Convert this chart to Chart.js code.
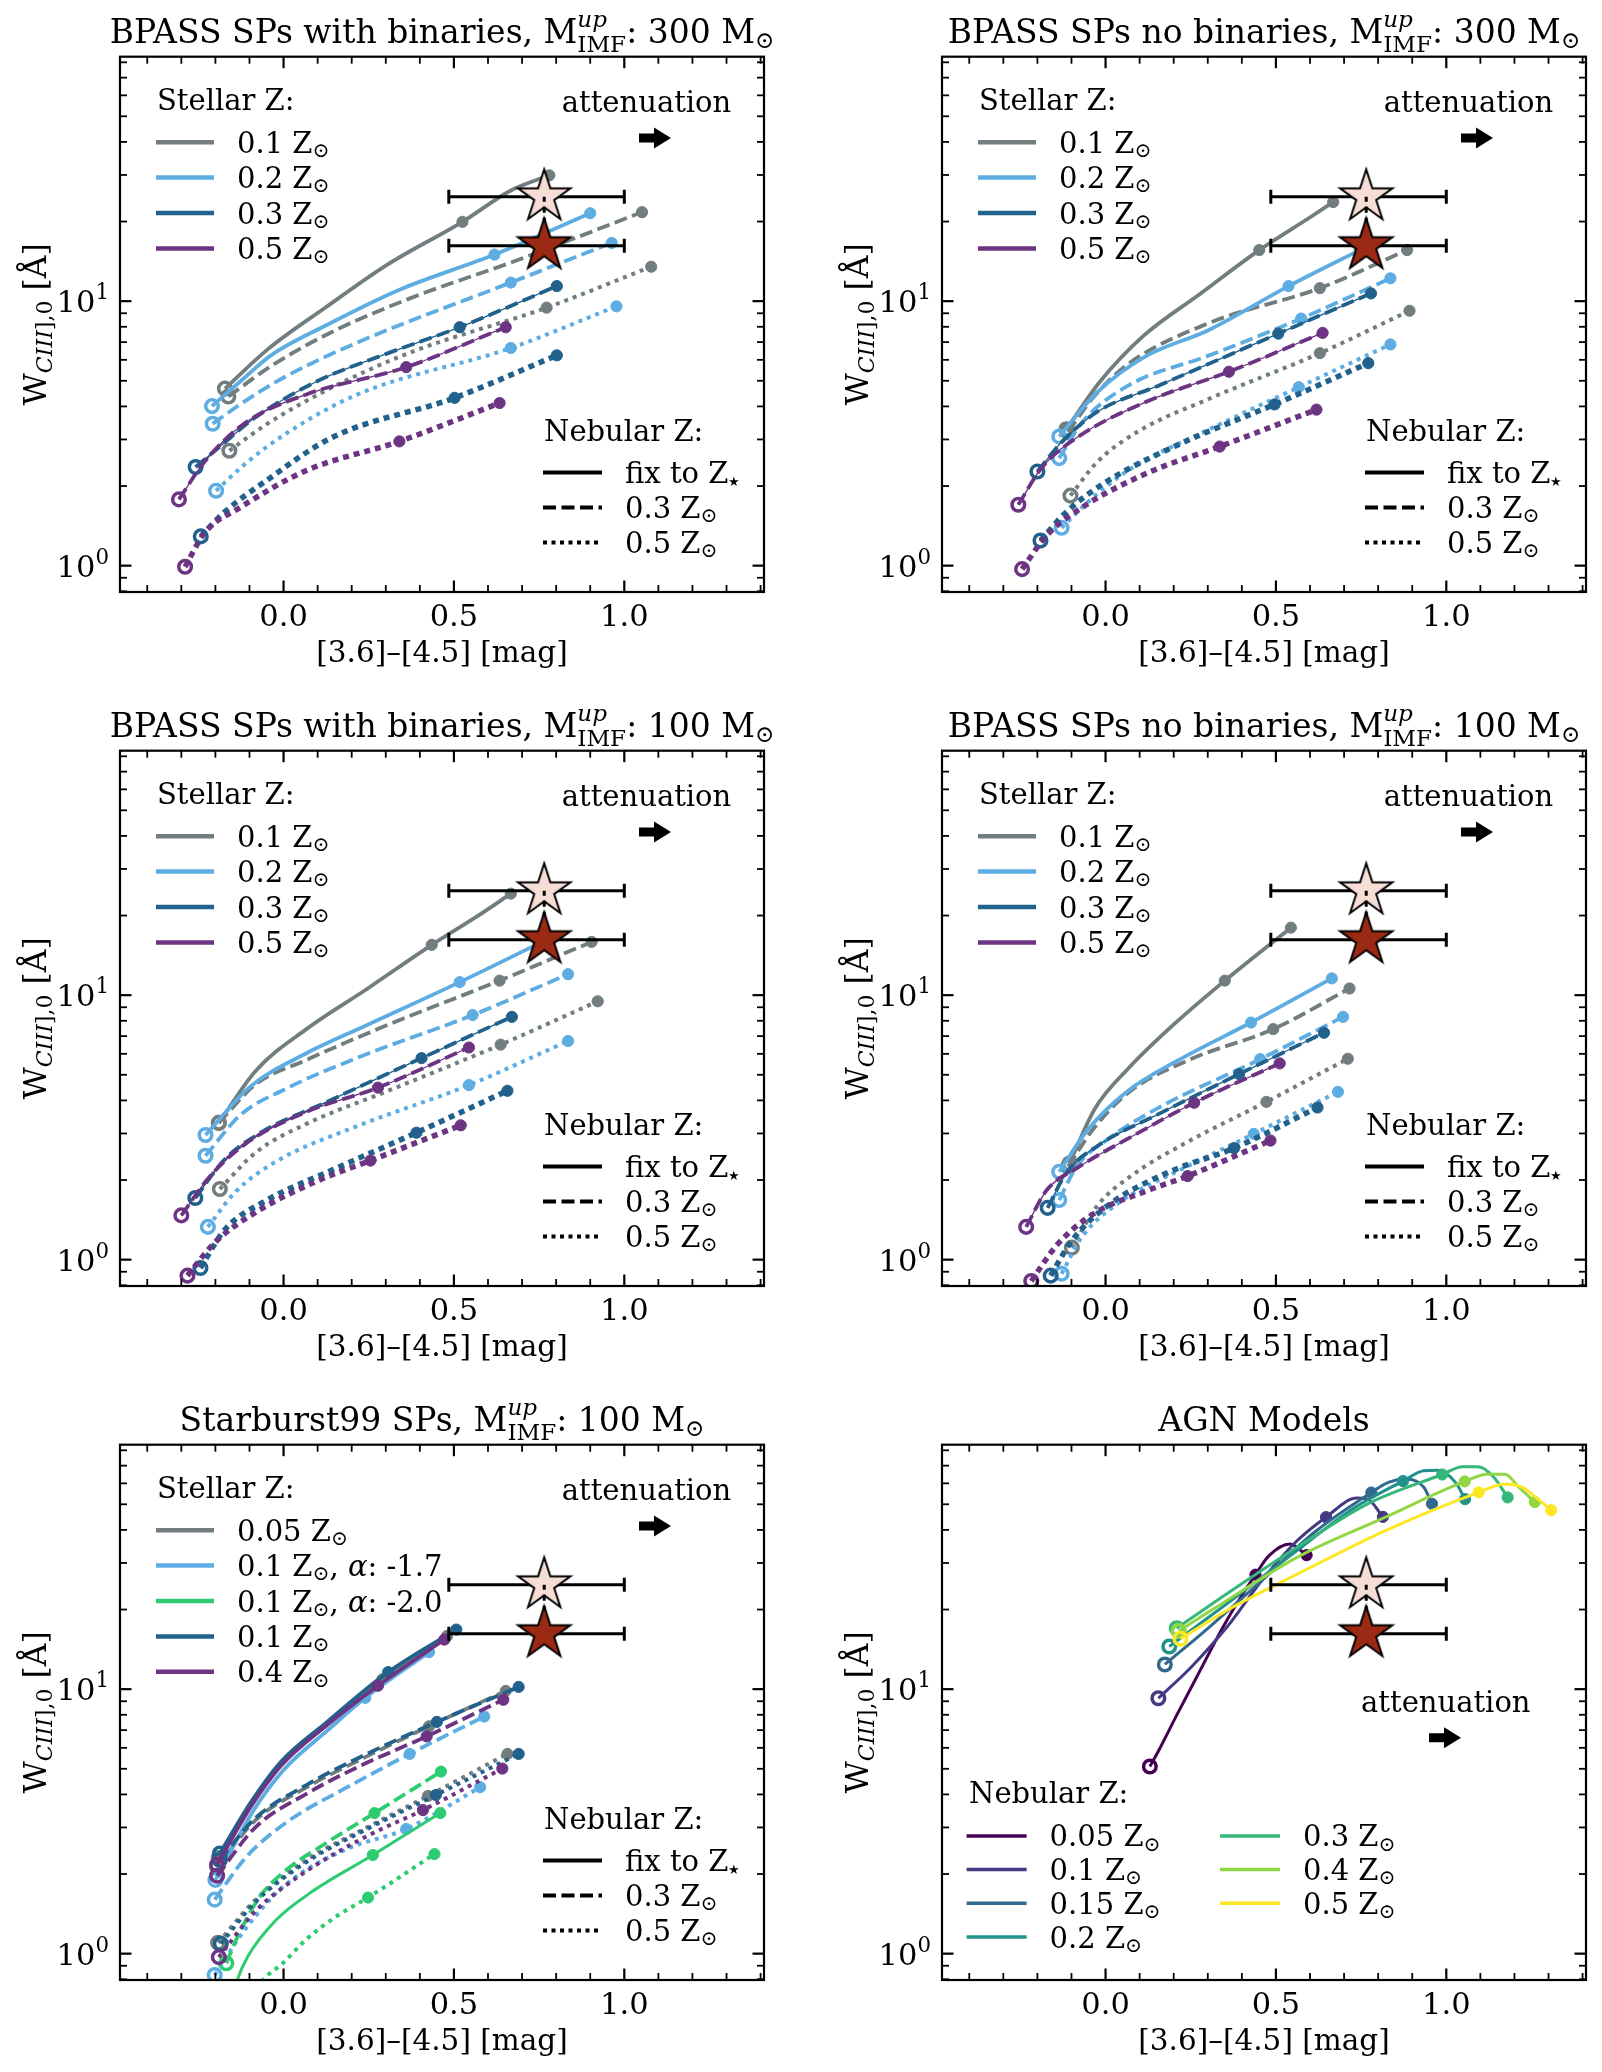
<!DOCTYPE html>
<html>
<head>
<meta charset="utf-8">
<script src="https://cdn.jsdelivr.net/npm/chart.js@4.4.1/dist/chart.umd.min.js"></script>
<style>
  html, body { margin: 0; padding: 0; background: #fff; }
  #fig { position: relative; width: 1602px; height: 2072px; overflow: hidden; background: #fff; }
  #fig canvas { position: absolute; }
</style>
</head>
<body>
<div id="fig"></div>
<script>
// axes
const xRange = [-0.48, 1.41];
const yRange = [0.795, 84];
const xMajor = [0, 0.5, 1.0];
const xTickLabels = ['0.0', '0.5', '1.0'];
const xMinor = [-0.4, -0.3, -0.2, -0.1, 0.1, 0.2, 0.3, 0.4, 0.6, 0.7, 0.8, 0.9, 1.1, 1.2, 1.3, 1.4];
const yMajor = [1, 10];
const yTickLabels = [['10', '0'], ['10', '1']];
const yMinor = [0.8, 0.9, 2, 3, 4, 5, 6, 7, 8, 9, 20, 30, 40, 50, 60, 70, 80];

// observed object: colour and two CIII] measurements
const obsX = 0.765, obsXlo = 0.485, obsXhi = 1.0;
const obsY = [24.8, 16.2];

// model tracks: [colour, EW] ; a third value 1 marks the age dot
// BPASS binaries, Mup 300
const bb300_01_fix = [[-0.172,4.67],[-0.045,6.6],[0.12,9.4],[0.307,13.8],[0.525,19.95,1],[0.667,26.2],[0.78,29.9]];
const bb300_01_03 = [[-0.162,4.36],[-0.037,5.68],[0.127,7.48],[0.367,10.2],[0.667,14.0],[1.052,21.7]];
const bb300_01_05 = [[-0.159,2.72],[-0.052,3.41],[0.127,4.61],[0.367,6.36],[0.772,9.45,1],[1.079,13.5]];
const bb300_02_fix = [[-0.21,4.01],[-0.112,5.17],[-0.037,6.24],[0.127,8.13],[0.337,11.0],[0.619,15.0,1],[0.90,21.5]];
const bb300_02_03 = [[-0.208,3.44],[-0.112,4.2],[0.0075,5.2],[0.217,6.98],[0.667,11.76,1],[0.963,16.6]];
const bb300_02_05 = [[-0.198,1.92],[-0.112,2.43],[0.0075,3.16],[0.217,4.44],[0.667,6.65,1],[0.977,9.56]];
const bb300_03_03 = [[-0.258,2.36],[-0.187,2.82],[-0.082,3.64],[0.097,4.97],[0.307,6.36],[0.517,7.97,1],[0.802,11.4]];
const bb300_03_05 = [[-0.243,1.29],[-0.172,1.6],[-0.052,2.09],[0.142,3.05],[0.502,4.31,1],[0.802,6.24]];
const bb300_05_03 = [[-0.307,1.78],[-0.232,2.47],[-0.112,3.47],[0.067,4.44],[0.36,5.63,1],[0.652,7.97]];
const bb300_05_05 = [[-0.289,0.99],[-0.232,1.33],[-0.127,1.66],[0.067,2.29],[0.34,2.95,1],[0.634,4.12]];

// BPASS single stars, Mup 300
const bs300_01_fix = [[-0.115,3.28],[-0.016,4.97],[0.111,7.39],[0.275,10.6],[0.451,15.6,1],[0.604,20.9],[0.668,23.7]];
const bs300_01_03 = [[-0.11,3.2],[-0.039,4.28],[0.066,5.78],[0.305,8.28],[0.629,11.2,1],[0.885,15.6]];
const bs300_01_05 = [[-0.103,1.84],[-0.024,2.47],[0.096,3.22],[0.305,4.28],[0.629,6.36,1],[0.892,9.2]];
const bs300_02_fix = [[-0.136,3.08],[-0.024,4.53],[0.111,6.12],[0.305,7.8],[0.537,11.4,1],[0.746,15.6]];
const bs300_02_03 = [[-0.136,2.55],[-0.069,3.48],[0.066,4.79],[0.305,6.24],[0.574,8.6,1],[0.836,12.2]];
const bs300_02_05 = [[-0.129,1.39],[-0.054,1.73],[0.066,2.29],[0.305,3.28],[0.567,4.73,1],[0.836,6.86]];
const bs300_03_03 = [[-0.2,2.27],[-0.129,2.93],[-0.024,3.82],[0.155,4.79],[0.507,7.54,1],[0.779,10.7]];
const bs300_03_05 = [[-0.191,1.245],[-0.114,1.6],[0.006,2.09],[0.23,2.93],[0.496,4.07,1],[0.771,5.83]];
const bs300_05_03 = [[-0.256,1.70],[-0.188,2.34],[-0.084,3.05],[0.126,4.2],[0.362,5.41,1],[0.637,7.59]];
const bs300_05_05 = [[-0.245,0.97],[-0.173,1.3],[-0.069,1.66],[0.126,2.25],[0.335,2.82,1],[0.619,3.89]];

// BPASS binaries, Mup 100
const bb100_01_fix = [[-0.19,3.29],[-0.082,5.17],[0.067,7.44],[0.247,10.6],[0.435,15.5,1],[0.577,20.2],[0.667,24.2]];
const bb100_01_03 = [[-0.19,3.29],[-0.082,4.6],[0.067,5.69],[0.292,7.59],[0.634,11.35,1],[0.904,15.9]];
const bb100_01_05 = [[-0.187,1.85],[-0.082,2.54],[0.067,3.26],[0.307,4.35],[0.637,6.5,1],[0.922,9.48]];
const bb100_02_fix = [[-0.229,2.96],[-0.097,4.52],[0.067,6.03],[0.247,7.73],[0.517,11.2,1],[0.75,15.7]];
const bb100_02_03 = [[-0.229,2.47],[-0.127,3.52],[0.0075,4.43],[0.217,5.8],[0.555,8.41,1],[0.835,12.0]];
const bb100_02_05 = [[-0.222,1.33],[-0.142,1.80],[-0.022,2.35],[0.217,3.20],[0.544,4.57,1],[0.835,6.71]];
const bb100_03_03 = [[-0.259,1.71],[-0.172,2.40],[-0.067,3.02],[0.127,3.95],[0.405,5.78,1],[0.670,8.28]];
const bb100_03_05 = [[-0.244,0.93],[-0.172,1.30],[-0.052,1.67],[0.142,2.18],[0.39,3.02,1],[0.657,4.35]];
const bb100_05_03 = [[-0.30,1.47],[-0.217,2.06],[-0.112,2.74],[0.067,3.62],[0.277,4.47,1],[0.544,6.34]];
const bb100_05_05 = [[-0.282,0.87],[-0.202,1.16],[-0.082,1.51],[0.097,1.98],[0.255,2.37,1],[0.52,3.22]];

// BPASS single stars, Mup 100
const bs100_01_fix = [[-0.106,2.31],[-0.031,3.73],[0.066,5.27],[0.185,7.44],[0.35,11.35,1],[0.544,18.0]];
const bs100_01_03 = [[-0.11,2.25],[-0.039,3.08],[0.066,4.27],[0.245,5.69],[0.492,7.44,1],[0.716,10.6]];
const bs100_01_05 = [[-0.099,1.11],[-0.024,1.60],[0.081,2.10],[0.23,2.74],[0.472,3.95,1],[0.711,5.75]];
const bs100_02_fix = [[-0.136,2.15],[-0.054,3.08],[0.066,4.35],[0.215,5.69],[0.427,7.88,1],[0.664,11.57]];
const bs100_02_03 = [[-0.136,1.68],[-0.084,2.26],[0.006,2.85],[0.155,3.75],[0.454,5.73,1],[0.697,8.28]];
const bs100_02_05 = [[-0.129,0.885],[-0.069,1.22],[0.036,1.63],[0.23,2.22],[0.435,2.99,1],[0.682,4.31]];
const bs100_03_03 = [[-0.17,1.57],[-0.114,2.14],[-0.024,2.69],[0.155,3.55],[0.392,5.03,1],[0.641,7.21]];
const bs100_03_05 = [[-0.161,0.87],[-0.099,1.18],[0.006,1.60],[0.185,2.14],[0.377,2.64,1],[0.622,3.76]];
const bs100_05_03 = [[-0.233,1.33],[-0.173,1.83],[-0.084,2.22],[0.081,2.94],[0.26,3.92,1],[0.511,5.52]];
const bs100_05_05 = [[-0.218,0.83],[-0.143,1.135],[-0.039,1.48],[0.126,1.83],[0.241,2.07,1],[0.484,2.82]];

// Starburst99, Mup 100
const sb_005_fix = [[-0.19,2.3],[-0.097,3.65],[-0.0075,5.2],[0.127,7.4],[0.29,10.9,1],[0.48,15.9]];
const sb_005_03 = [[-0.195,2.13],[-0.082,3.2],[0.067,4.25],[0.217,5.35],[0.427,7.24,1],[0.652,9.85]];
const sb_005_05 = [[-0.192,1.10],[-0.082,1.60],[0.067,2.26],[0.247,3.01],[0.424,3.95,1],[0.657,5.69]];
const sb_01a17_fix = [[-0.2,1.9],[-0.09,3.45],[0.0,4.95],[0.13,7.0],[0.24,9.27,1],[0.427,13.8]];
const sb_01a17_03 = [[-0.202,1.60],[-0.112,2.30],[0.0075,3.13],[0.187,4.26],[0.37,5.69,1],[0.589,7.88]];
const sb_01a17_05 = [[-0.202,0.83],[-0.112,1.24],[0.0075,1.83],[0.187,2.49],[0.36,2.96,1],[0.577,4.26]];
const sb_01a20_fix = [[-0.16,0.62],[-0.135,0.8],[-0.105,0.975],[-0.022,1.34],[0.076,1.69],[0.262,2.36,1],[0.46,3.40]];
const sb_01a20_03 = [[-0.168,0.92],[-0.139,1.13],[-0.07,1.64],[0.008,2.07],[0.125,2.62],[0.267,3.40,1],[0.462,4.88]];
const sb_01a20_05 = [[-0.12,0.6],[-0.06,0.795],[-0.002,0.92],[0.066,1.13],[0.154,1.38],[0.248,1.63,1],[0.443,2.38]];
const sb_01_fix = [[-0.187,2.39],[-0.097,3.72],[-0.0075,5.32],[0.127,7.5],[0.307,11.6,1],[0.507,16.8]];
const sb_01_03 = [[-0.187,2.26],[-0.082,3.26],[0.067,4.34],[0.217,5.47],[0.45,7.52,1],[0.69,10.2]];
const sb_01_05 = [[-0.184,1.09],[-0.082,1.57],[0.067,2.22],[0.247,2.97],[0.447,3.98,1],[0.69,5.69]];
const sb_04_fix = [[-0.195,2.17],[-0.097,3.58],[-0.0075,5.13],[0.127,7.3],[0.277,10.3,1],[0.472,15.4]];
const sb_04_03 = [[-0.195,1.97],[-0.082,3.01],[0.067,4.02],[0.217,5.07],[0.42,6.63,1],[0.645,9.12]];
const sb_04_05 = [[-0.19,0.97],[-0.082,1.45],[0.067,2.05],[0.247,2.79],[0.409,3.49,1],[0.642,5.01]];

// AGN models
const agn_005 = [[0.130,5.1],[0.158,5.93],[0.21,8.03],[0.272,11.4],[0.344,17.1],[0.396,22.2],[0.44,27.1,1],[0.479,31.9],[0.541,35.4],[0.59,32.1]];
const agn_01 = [[0.155,9.24],[0.251,12.1],[0.355,17.1],[0.458,25.7],[0.562,36.4],[0.647,44.7,1],[0.737,52.8],[0.768,52.4],[0.814,44.8]];
const agn_015 = [[0.174,12.4],[0.303,17.1],[0.458,25.7],[0.613,39.2],[0.78,55.4,1],[0.83,60.5],[0.882,62.3],[0.934,58],[0.958,50.2]];
const agn_02 = [[0.187,14.5],[0.355,21],[0.562,33.4],[0.717,47.3],[0.873,61.2,1],[0.934,67],[0.975,67.3],[1.027,60.5],[1.055,52.3]];
const agn_03 = [[0.209,17.0],[0.355,22.9],[0.562,34.4],[0.768,50.1],[0.988,64.8,1],[1.048,69.3],[1.094,69.3],[1.14,63.1],[1.18,53.1]];
const agn_04 = [[0.215,16.6],[0.355,21.6],[0.562,31.5],[0.82,44.6],[1.054,61.0,1],[1.12,65],[1.172,65],[1.213,58],[1.26,51]];
const agn_05 = [[0.22,15.5],[0.355,19.8],[0.562,27.2],[0.82,39.7],[1.095,55.5,1],[1.172,59.7],[1.223,58],[1.275,51.5],[1.308,47.5]];

const bpassZ = ['0.1', '0.2', '0.3', '0.5'];
const sbZ = ['0.05', '0.1|1.7', '0.1|2.0', '0.1', '0.4'];
const agnZ = ['0.05', '0.1', '0.15', '0.2', '0.3', '0.4', '0.5'];

// look
const GRAY = '#717D7E', LBLUE = '#5DADE2', DBLUE = '#21618C', PURPLE = '#6C3483', GREEN = '#2ECC71';
const VIRIDIS = ['#440154', '#443983', '#31688e', '#21918c', '#35b779', '#90d743', '#fde725'];
const FONT = '"DejaVu Serif", serif';
const CW = 801, CH = 694;
const fig = document.getElementById('fig');

function fnt(px, it) { return (it ? 'italic ' : '') + px + 'px ' + FONT; }

function segWidth(ctx, s, size) {
  if (s.k === 's') {
    ctx.font = fnt(size * 0.7, s.i && s.i[0]); const a = ctx.measureText(s.t[0]).width;
    ctx.font = fnt(size * 0.7, s.i && s.i[1]); const b = ctx.measureText(s.t[1]).width;
    return Math.max(a, b);
  }
  ctx.font = fnt(s.k === 'n' ? size : size * (s.sz || 0.7), s.i);
  return ctx.measureText(s.t).width;
}

function drawRich(ctx, segs, x, y, size, align) {
  let w = 0;
  segs.forEach(s => { w += segWidth(ctx, s, size); });
  let cx = align === 'center' ? x - w / 2 : align === 'right' ? x - w : x;
  ctx.textAlign = 'left';
  ctx.textBaseline = 'alphabetic';
  segs.forEach(s => {
    const sw = segWidth(ctx, s, size);
    if (s.k === 's') {
      ctx.font = fnt(size * 0.7, s.i && s.i[0]); ctx.fillText(s.t[0], cx, y - size * 0.5);
      ctx.font = fnt(size * 0.7, s.i && s.i[1]); ctx.fillText(s.t[1], cx, y + size * 0.25);
    } else {
      let dy = 0;
      if (s.k === 'b') dy = size * (s.dy == null ? 0.15 : s.dy);
      if (s.k === 'p') dy = -size * 0.42;
      ctx.font = fnt(s.k === 'n' ? size : size * (s.sz || 0.7), s.i);
      ctx.fillText(s.t, cx, y + dy);
    }
    cx += sw;
  });
}

function zsun(v) {
  const parts = v.split('|');
  const segs = [{ t: parts[0] + ' Z', k: 'n' }, { t: '⊙', k: 'b' }];
  if (parts[1]) segs.push({ t: ', ', k: 'n' }, { t: 'α', k: 'n', i: true }, { t: ': -' + parts[1], k: 'n' });
  return segs;
}

function titleSegs(prefix, mass) {
  return [{ t: prefix + ', M', k: 'n' }, { t: ['up', 'IMF'], k: 's', i: [true, false] },
          { t: ': ' + mass + ' M', k: 'n' }, { t: '⊙', k: 'b' }];
}

function starImage(fill) {
  const c = document.createElement('canvas');
  c.width = 64; c.height = 64;
  const g = c.getContext('2d');
  const R = 27.5, r = R * 0.382;
  g.beginPath();
  for (let k = 0; k < 10; k++) {
    const ang = -Math.PI / 2 + k * Math.PI / 5;
    const rr = k % 2 ? r : R;
    const px = 32 + rr * Math.cos(ang), py = 32 + rr * Math.sin(ang);
    if (k) g.lineTo(px, py); else g.moveTo(px, py);
  }
  g.closePath();
  g.fillStyle = fill; g.fill();
  g.lineWidth = 2; g.strokeStyle = '#000'; g.miterLimit = 10; g.stroke();
  return c;
}
const starPink = starImage('#f6ddd6');
const starRed = starImage('#9a2a14');

function modelDS(s, order) {
  const n = s.d.length;
  const lw = s.lw;
  let dash = [];
  if (s.ls === 'dashed') dash = [13, 5.5];
  if (s.ls === 'dotted') dash = lw > 4.5 ? [6, 5] : [lw, 1.25 * lw];
  const marks = s.marks !== false;
  const radius = s.d.map((p, i) => !marks ? 0 : i === 0 ? 6.3 : (i === n - 1 || p[2]) ? 5.6 : 0);
  return {
    data: s.d.map(p => ({ x: p[0], y: p[1] })),
    borderColor: s.c, borderWidth: lw, borderDash: dash, borderCapStyle: 'butt',
    cubicInterpolationMode: 'monotone', fill: false,
    pointRadius: radius, pointHoverRadius: radius, pointStyle: 'circle',
    pointBackgroundColor: s.d.map((p, i) => i === 0 ? 'rgba(0,0,0,0)' : s.c),
    pointBorderColor: s.c,
    pointBorderWidth: s.d.map((p, i) => i === 0 ? 3.5 : 1),
    order
  };
}

function obsDatasets() {
  const bar = (y) => ({
    data: [{ x: obsXlo, y }, { x: obsXhi, y }],
    borderColor: '#000', borderWidth: 3, pointStyle: 'line', pointRotation: 90,
    pointRadius: 7, pointHoverRadius: 7, pointBorderWidth: 3, pointBorderColor: '#000', order: 5
  });
  return [
    bar(obsY[0]), bar(obsY[1]),
    { data: [{ x: obsX, y: obsY[0] }], pointStyle: starPink, pointRadius: 10, showLine: false, order: 4 },
    { data: [{ x: obsX, y: obsY[1] }, { x: obsX, y: obsY[0] }], borderColor: '#000', borderWidth: 3,
      borderDash: [6, 5], borderCapStyle: 'butt', pointRadius: 0, order: 3 },
    { data: [{ x: obsX, y: obsY[1] }], pointStyle: starRed, pointRadius: 10, showLine: false, order: 2 }
  ];
}

const LW = 3.8;

function bpassSeries(z01, z02, z03, z05) {
  return [
    { d: z01[0], c: GRAY, ls: 'solid', lw: LW },
    { d: z01[1], c: GRAY, ls: 'dashed', lw: LW },
    { d: z01[2], c: GRAY, ls: 'dotted', lw: 4 },
    { d: z02[0], c: LBLUE, ls: 'solid', lw: LW },
    { d: z02[1], c: LBLUE, ls: 'dashed', lw: LW },
    { d: z02[2], c: LBLUE, ls: 'dotted', lw: 4 },
    { d: z03[0], c: DBLUE, ls: 'dashed', lw: LW },
    { d: z03[0], c: DBLUE, ls: 'solid', lw: 1.3, marks: false },
    { d: z03[1], c: DBLUE, ls: 'dotted', lw: 5.5 },
    { d: z05[0], c: PURPLE, ls: 'dashed', lw: LW },
    { d: z05[0], c: PURPLE, ls: 'solid', lw: 1.3, marks: false },
    { d: z05[1], c: PURPLE, ls: 'dotted', lw: 5.5 }
  ];
}

function sbSeries() {
  const cols = [GRAY, LBLUE, GREEN, DBLUE, PURPLE];
  const sets = [[sb_005_fix, sb_005_03, sb_005_05], [sb_01a17_fix, sb_01a17_03, sb_01a17_05],
                [sb_01a20_fix, sb_01a20_03, sb_01a20_05], [sb_01_fix, sb_01_03, sb_01_05],
                [sb_04_fix, sb_04_03, sb_04_05]];
  const out = [];
  sets.forEach((set, k) => {
    out.push({ d: set[0], c: cols[k], ls: 'solid', lw: k === 2 ? 3 : LW });
    out.push({ d: set[1], c: cols[k], ls: 'dashed', lw: LW });
    out.push({ d: set[2], c: cols[k], ls: 'dotted', lw: 4 });
  });
  return out;
}

function agnSeries() {
  return [agn_005, agn_01, agn_015, agn_02, agn_03, agn_04, agn_05]
    .map((d, k) => ({ d, c: VIRIDIS[k], ls: 'solid', lw: 3 }));
}

const ATT_TOP = { tx: 526.5, ty: 55, ax: 519, ay: 81.3 };
const ATT_LOW = { tx: 503.8, ty: 267, ax: 487, ay: 293 };

const panels = [
  { title: titleSegs('BPASS SPs with binaries', '300'),
    series: bpassSeries([bb300_01_fix, bb300_01_03, bb300_01_05], [bb300_02_fix, bb300_02_03, bb300_02_05],
                        [bb300_03_03, bb300_03_05], [bb300_05_03, bb300_05_05]),
    stellar: { labels: bpassZ, colors: [GRAY, LBLUE, DBLUE, PURPLE] }, att: ATT_TOP },
  { title: titleSegs('BPASS SPs no binaries', '300'),
    series: bpassSeries([bs300_01_fix, bs300_01_03, bs300_01_05], [bs300_02_fix, bs300_02_03, bs300_02_05],
                        [bs300_03_03, bs300_03_05], [bs300_05_03, bs300_05_05]),
    stellar: { labels: bpassZ, colors: [GRAY, LBLUE, DBLUE, PURPLE] }, att: ATT_TOP },
  { title: titleSegs('BPASS SPs with binaries', '100'),
    series: bpassSeries([bb100_01_fix, bb100_01_03, bb100_01_05], [bb100_02_fix, bb100_02_03, bb100_02_05],
                        [bb100_03_03, bb100_03_05], [bb100_05_03, bb100_05_05]),
    stellar: { labels: bpassZ, colors: [GRAY, LBLUE, DBLUE, PURPLE] }, att: ATT_TOP },
  { title: titleSegs('BPASS SPs no binaries', '100'),
    series: bpassSeries([bs100_01_fix, bs100_01_03, bs100_01_05], [bs100_02_fix, bs100_02_03, bs100_02_05],
                        [bs100_03_03, bs100_03_05], [bs100_05_03, bs100_05_05]),
    stellar: { labels: bpassZ, colors: [GRAY, LBLUE, DBLUE, PURPLE] }, att: ATT_TOP },
  { title: titleSegs('Starburst99 SPs', '100'),
    series: sbSeries(),
    stellar: { labels: sbZ, colors: [GRAY, LBLUE, GREEN, DBLUE, PURPLE] }, att: ATT_TOP },
  { title: [{ t: 'AGN Models', k: 'n' }],
    series: agnSeries(), agn: true, att: ATT_LOW }
];

const TITLE = 33, TICK = 30.5, LABEL = 29.5, YLABEL = 31.5, LEG = 29;

function hline(ctx, x0, y0, x1, y1) { ctx.beginPath(); ctx.moveTo(x0, y0); ctx.lineTo(x1, y1); ctx.stroke(); }

function decorate(chart, p) {
  const { ctx, chartArea: a } = chart;
  const xs = chart.scales.x, ys = chart.scales.y;
  ctx.save();
  ctx.fillStyle = '#000'; ctx.strokeStyle = '#000'; ctx.setLineDash([]); ctx.lineCap = 'butt';

  // inward ticks on all four sides
  const xt = (vals, len, lw) => {
    ctx.lineWidth = lw;
    vals.forEach(v => { const px = xs.getPixelForValue(v);
      hline(ctx, px, a.bottom, px, a.bottom - len); hline(ctx, px, a.top, px, a.top + len); });
  };
  const yt = (vals, len, lw) => {
    ctx.lineWidth = lw;
    vals.forEach(v => { const py = ys.getPixelForValue(v);
      hline(ctx, a.left, py, a.left + len, py); hline(ctx, a.right, py, a.right - len, py); });
  };
  xt(xMinor, 7, 1.8); xt(xMajor, 11.5, 2.2);
  yt(yMinor, 7, 1.8); yt(yMajor, 11.5, 2.2);
  ctx.lineWidth = 2.2;
  ctx.strokeRect(a.left, a.top, a.right - a.left, a.bottom - a.top);

  // tick labels
  xMajor.forEach((v, i) => drawRich(ctx, [{ t: xTickLabels[i], k: 'n' }], xs.getPixelForValue(v), a.bottom + 34, TICK, 'center'));
  yMajor.forEach((v, i) => drawRich(ctx, [{ t: yTickLabels[i][0], k: 'n' }, { t: yTickLabels[i][1], k: 'p' }],
    a.left - 11, ys.getPixelForValue(v) + 11, TICK, 'right'));

  // axis labels and title
  const cxm = (a.left + a.right) / 2;
  drawRich(ctx, [{ t: '[3.6]–[4.5] [mag]', k: 'n' }], cxm, a.bottom + 70, LABEL, 'center');
  ctx.save();
  ctx.translate(a.left - 74, (a.top + a.bottom) / 2);
  ctx.rotate(-Math.PI / 2);
  drawRich(ctx, [{ t: 'W', k: 'n' }, { t: 'CIII', k: 'b', i: true, dy: 0.2 }, { t: '],0', k: 'b', dy: 0.2 }, { t: ' [Å]', k: 'n' }],
    0, 0, YLABEL, 'center');
  ctx.restore();
  drawRich(ctx, p.title, cxm, a.top - 13.4, TITLE, 'center');

  // attenuation arrow
  const at = p.att;
  drawRich(ctx, [{ t: 'attenuation', k: 'n' }], a.left + at.tx, a.top + at.ty, LEG, 'center');
  const ax = a.left + at.ax, ay = a.top + at.ay;
  ctx.beginPath();
  ctx.moveTo(ax, ay - 4.5); ctx.lineTo(ax + 15, ay - 4.5); ctx.lineTo(ax + 15, ay - 10.5);
  ctx.lineTo(ax + 32, ay); ctx.lineTo(ax + 15, ay + 10.5); ctx.lineTo(ax + 15, ay + 4.5);
  ctx.lineTo(ax, ay + 4.5); ctx.closePath(); ctx.fill();

  // legends
  if (p.stellar) {
    drawRich(ctx, [{ t: 'Stellar Z:', k: 'n' }], a.left + 37, a.top + 53.3, LEG, 'left');
    p.stellar.labels.forEach((lab, i) => {
      const y = a.top + 85.5 + i * 35.4;
      ctx.strokeStyle = p.stellar.colors[i]; ctx.lineWidth = 4.5; ctx.setLineDash([]);
      hline(ctx, a.left + 36, y, a.left + 94, y);
      drawRich(ctx, zsun(lab), a.left + 117, y + 10.5, LEG, 'left');
    });
    drawRich(ctx, [{ t: 'Nebular Z:', k: 'n' }], a.left + 424, a.top + 384.2, LEG, 'left');
    const neb = [[{ t: 'fix to Z', k: 'n' }, { t: '★', k: 'b', sz: 0.45, dy: 0.1 }], zsun('0.3'), zsun('0.5')];
    const dashes = [[], [13, 5.5], [4, 4.5]];
    neb.forEach((lab, i) => {
      const y = a.top + 415.8 + i * 35;
      ctx.strokeStyle = '#000'; ctx.lineWidth = 4; ctx.setLineDash(dashes[i]);
      hline(ctx, a.left + 423, y, a.left + 482, y);
      ctx.setLineDash([]);
      drawRich(ctx, lab, a.left + 505, y + 10.5, LEG, 'left');
    });
  }
  if (p.agn) {
    drawRich(ctx, [{ t: 'Nebular Z:', k: 'n' }], a.left + 27, a.top + 358.5, LEG, 'left');
    agnZ.forEach((lab, k) => {
      const colk = k < 4 ? 0 : 1, rowk = k < 4 ? k : k - 4;
      const y = a.top + 391.2 + rowk * 33.7;
      const x0 = colk ? a.left + 278 : a.left + 24.6;
      ctx.strokeStyle = VIRIDIS[k]; ctx.lineWidth = 3.5; ctx.setLineDash([]);
      hline(ctx, x0, y, x0 + 60, y);
      drawRich(ctx, zsun(lab), x0 + 83, y + 10.5, LEG, 'left');
    });
  }
  ctx.restore();
}

function buildPanel(idx, p) {
  const col = idx % 2, row = Math.floor(idx / 2);
  const L = col ? 141 : 120, R = col ? 785 : 764, T = 56.7, B = 592;
  const cv = document.createElement('canvas');
  cv.width = CW; cv.height = CH;
  cv.style.left = (col * CW) + 'px';
  cv.style.top = (row * CH) + 'px';
  fig.appendChild(cv);

  const datasets = p.series.map((s, i) => modelDS(s, 1000 - i)).concat(obsDatasets());

  new Chart(cv, {
    type: 'line',
    data: { datasets },
    options: {
      responsive: false, animation: false, devicePixelRatio: 1, events: [],
      layout: { padding: { left: L, right: CW - R, top: T, bottom: CH - B } },
      scales: {
        x: { type: 'linear', min: xRange[0], max: xRange[1], display: false },
        y: { type: 'logarithmic', min: yRange[0], max: yRange[1], display: false }
      },
      elements: { line: { capBezierPoints: false } },
      plugins: { legend: { display: false }, tooltip: { enabled: false } }
    },
    plugins: [{ id: 'decor' + idx, afterDraw: chart => decorate(chart, p) }]
  });
}

panels.forEach((p, i) => buildPanel(i, p));
</script>
</body>
</html>
